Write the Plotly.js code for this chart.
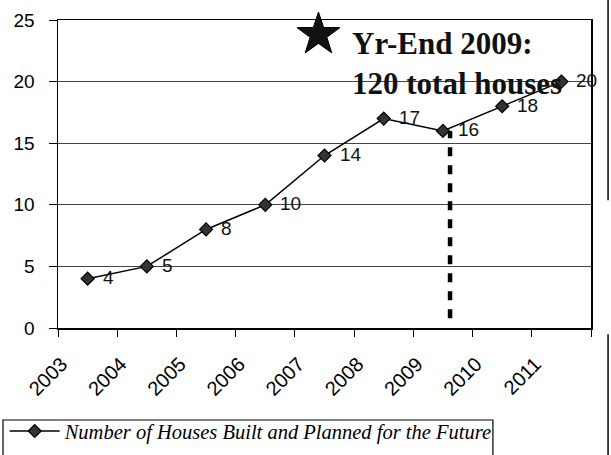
<!DOCTYPE html>
<html>
<head>
<meta charset="utf-8">
<script src="https://cdn.plot.ly/plotly-3.0.1.min.js"></script>
<style>html,body{margin:0;padding:0;background:#fff;}#chart{width:611px;height:455px;}</style>
</head>
<body>
<div id="chart"></div>
<script>
const years = ['2003','2004','2005','2006','2007','2008','2009','2010','2011'];
const houses = [4, 5, 8, 10, 14, 17, 16, 18, 20];
const seriesName = 'Number of Houses Built and Planned for the Future';
const noteLine1 = 'Yr-End 2009:';
const noteLine2 = '120 total houses';

const sans = 'Liberation Sans, Arial, sans-serif';
const serif = 'Liberation Serif';

const trace = {
  x: years,
  y: houses,
  type: 'scatter',
  mode: 'lines+markers',
  name: seriesName,
  cliponaxis: false,
  line: {color: '#000', width: 1.5},
  marker: {symbol: 'diamond', size: 10, color: '#333', line: {color: '#000', width: 1.2}}
};

// value labels: category axes take the category's serial index in annotations
const valueLabels = houses.map((v, i) => ({
  x: years.indexOf(years[i]), y: v, xref: 'x', yref: 'y',
  text: String(v), showarrow: false,
  xanchor: 'left', yanchor: 'middle', xshift: 13, yshift: 1,
  font: {family: sans, size: 19, color: '#111'}
}));

// decorative five-pointed star (pixel-sized shape path)
function starPath(R, r) {
  const pts = [];
  for (let k = 0; k < 10; k++) {
    const ang = Math.PI / 2 - k * Math.PI / 5;
    const rad = k % 2 === 0 ? R : r;
    pts.push((rad * Math.cos(ang)).toFixed(2) + ',' + (rad * Math.sin(ang)).toFixed(2));
  }
  return 'M' + pts.join(' L') + ' Z';
}

const layout = {
  width: 611, height: 455,
  margin: {l: 58, r: 20, t: 20, b: 127, autoexpand: false},
  paper_bgcolor: '#fff', plot_bgcolor: '#fff',
  font: {family: serif, color: '#000'},
  showlegend: true,
  legend: {
    x: -0.1, xanchor: 'left', y: -0.335, yanchor: 'middle',
    orientation: 'h',
    font: {family: serif, size: 20.5, color: '#000', style: 'italic'},
    itemwidth: 50,
    bgcolor: 'rgba(0,0,0,0)'
  },
  xaxis: {
    type: 'category',
    range: [-0.5, 8.5],
    automargin: false,
    tickson: 'boundaries',
    ticks: 'outside', ticklen: 7, tickcolor: '#000', tickwidth: 1,
    tickangle: -45,
    ticklabelshift: -26,
    ticklabelstandoff: 15,
    tickfont: {family: sans, size: 20, color: '#000'},
    showline: true, linecolor: '#000', linewidth: 1.5, mirror: true,
    showgrid: false, zeroline: false
  },
  yaxis: {
    range: [0, 25],
    dtick: 5,
    automargin: false,
    ticks: 'outside', ticklen: 8, tickcolor: '#000', tickwidth: 1,
    ticklabelstandoff: 10,
    tickfont: {family: sans, size: 19, color: '#000'},
    showline: true, linecolor: '#000', linewidth: 1.5, mirror: true,
    showgrid: true, gridcolor: '#444', gridwidth: 1,
    zeroline: false
  },
  shapes: [
    {type: 'line', xref: 'x', yref: 'y', x0: 6.12, x1: 6.12, y0: 0.8, y1: 16,
     line: {color: '#000', width: 4.5, dash: '9px,9px'}},
    {type: 'rect', xref: 'paper', yref: 'paper', x0: -0.1032, x1: 0.816, y0: -0.2987, y1: -0.5,
     line: {color: '#000', width: 1.2}, fillcolor: 'rgba(0,0,0,0)'},
    {type: 'line', xref: 'paper', yref: 'paper', x0: 1.032, x1: 1.032, y0: 0.415, y1: 1.1,
     line: {color: '#000', width: 1.5}},
    {type: 'line', xref: 'paper', yref: 'paper', x0: 1.032, x1: 1.032, y0: -0.02, y1: -0.5,
     line: {color: '#000', width: 1.5}},
    {type: 'path', xref: 'paper', yref: 'paper',
     xsizemode: 'pixel', ysizemode: 'pixel', xanchor: 0.4887, yanchor: 0.9526,
     path: starPath(22.6, 8.8), fillcolor: '#111', line: {color: '#000', width: 1}}
  ],
  annotations: valueLabels.concat([
    {text: '<b>' + noteLine1 + '<br>' + noteLine2 + '</b>', xref: 'paper', yref: 'paper',
     x: 0.548, y: 0.988, xanchor: 'left', yanchor: 'top', align: 'left', showarrow: false,
     font: {family: serif, size: 31, color: '#111'}}
  ])
};

Plotly.newPlot('chart', [trace], layout, {displayModeBar: false, staticPlot: true});
</script>
</body>
</html>
